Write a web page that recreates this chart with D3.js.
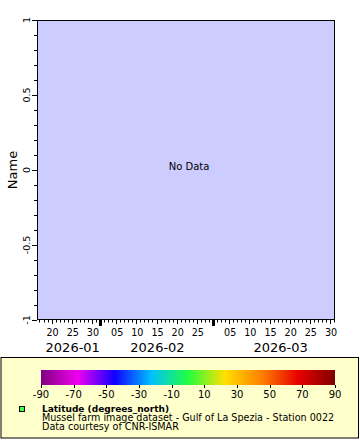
<!DOCTYPE html>
<html><head><meta charset="utf-8">
<script src="https://cdn.jsdelivr.net/npm/d3@7"></script>
<style>body{margin:0;background:#fff}svg{display:block}text{font-family:"DejaVu Sans",sans-serif}</style>
</head><body><svg id="c" width="360" height="440"></svg>
<script>
// ---- data ----
const timeDomain = [new Date(Date.UTC(2026,0,16,9,20)), new Date(Date.UTC(2026,2,31,5,30))];
const yDomain = [-1, 1];
const yMajorTicks = [-1, -0.5, 0, 0.5, 1];
const yTickLabels = ["-1", "-0.5", "0", "0.5", "1"];
const yLabel = "Name";
const dayLabelStep = 5;
const colorDomain = [-90, 90];
const colorTicks = [-90, -70, -50, -30, -10, 10, 30, 50, 70, 90];
const paletteStops = [-90, -67.5, -45, -22.5, 0, 22.5, 45, 67.5, 90];
const paletteColors = ["#800080","#f000f0","#1000ff","#00c0ff","#20ff40","#ffe000","#ff8000","#e80000","#800000"];
const legendTitle = "Latitude (degrees_north)";
const legendLines = ["Mussel farm image dataset - Gulf of La Spezia - Station 0022", "Data courtesy of CNR-ISMAR"];
const noDataText = "No Data";
const markerColor = "#40ff40";

// ---- layout ----
const svg = d3.select("#c");
const L = 37, R = 335, T = 20, B = 320;
const x = d3.scaleUtc().domain(timeDomain).range([L, R]);
const y = d3.scaleLinear().domain(yDomain).range([B, T]);

svg.append("rect").attr("x", L).attr("y", T).attr("width", R-L).attr("height", B-T)
  .attr("fill", "#ccccff").attr("stroke", "none");

// y axis ticks
const yMinor = d3.range(-10, 11).map(d => d/10);
svg.append("g").selectAll("line").data(yMinor).join("line")
  .attr("x1", d => Math.abs(d*2 - Math.round(d*2)) < 1e-9 ? L-5 : L-3).attr("x2", L)
  .attr("y1", d => Math.round(y(d))+0.5).attr("y2", d => Math.round(y(d))+0.5)
  .attr("stroke", "#000").attr("stroke-width", 1);
svg.append("g").selectAll("text").data(yMajorTicks).join("text")
  .attr("transform", d => `translate(${L-7},${y(d)}) rotate(-90)`)
  .attr("text-anchor", "middle").attr("font-size", 9.5).attr("fill", "#000")
  .text((d,i) => yTickLabels[i]);
svg.append("text").attr("transform", `translate(17,${(T+B)/2}) rotate(-90)`)
  .attr("text-anchor", "middle").attr("font-size", 13).text(yLabel);

// x axis ticks
const days = d3.utcDay.range(d3.utcDay.ceil(timeDomain[0]), timeDomain[1]);
const g = svg.append("g");
days.forEach(d => {
  const px = Math.round(x(d)) + 0.5;
  const dom = d.getUTCDate();
  if (dom === 1) {
    g.append("rect").attr("x", px-1.5).attr("y", B).attr("width", 3).attr("height", 6).attr("fill", "#000");
  } else {
    g.append("line").attr("x1", px).attr("x2", px).attr("y1", B).attr("y2", B + (dom % dayLabelStep === 0 ? 4 : 2.5))
      .attr("stroke", "#000");
  }
});
const labeled = days.filter(d => d.getUTCDate() % dayLabelStep === 0);
g.selectAll("text.day").data(labeled).join("text").attr("class", "day")
  .attr("x", d => x(d) + 1).attr("y", B + 16).attr("text-anchor", "middle").attr("font-size", 9.6)
  .text(d => d3.utcFormat("%d")(d));
// month labels centered between first and last labeled day in month
const months = d3.groups(labeled, d => d3.utcFormat("%Y-%m")(d));
g.selectAll("text.mon").data(months).join("text").attr("class", "mon")
  .attr("x", m => (x(m[1][0]) + x(m[1][m[1].length-1]))/2 + 1).attr("y", B + 32)
  .attr("text-anchor", "middle").attr("font-size", 13).text(m => m[0]);

svg.append("rect").attr("x", L+0.5).attr("y", T+0.5).attr("width", R-L-1).attr("height", B-T-1)
  .attr("fill", "none").attr("stroke", "#000").attr("stroke-width", 1);

svg.append("text").attr("x", (L+R)/2 + 3).attr("y", 170).attr("text-anchor", "middle")
  .attr("font-size", 10).text(noDataText);

// ---- legend ----
svg.append("rect").attr("x", 1).attr("y", 357.5).attr("width", 357.5).attr("height", 80.5)
  .attr("fill", "#ffffcc").attr("stroke", "#000").attr("stroke-width", 1);
const cx = d3.scaleLinear().domain(colorDomain).range([41, 335]);
const grad = svg.append("defs").append("linearGradient").attr("id", "pal")
  .attr("gradientUnits", "userSpaceOnUse").attr("x1", cx(colorDomain[0])).attr("x2", cx(colorDomain[1])).attr("y1", 0).attr("y2", 0);
grad.selectAll("stop").data(paletteStops).join("stop")
  .attr("offset", d => (d - colorDomain[0])/(colorDomain[1]-colorDomain[0]))
  .attr("stop-color", (d,i) => paletteColors[i]);
svg.append("rect").attr("x", cx(colorDomain[0])).attr("y", 370).attr("width", cx(colorDomain[1]) - cx(colorDomain[0]))
  .attr("height", 15).attr("fill", "url(#pal)");
svg.append("g").selectAll("line").data(colorTicks).join("line")
  .attr("x1", d => Math.round(cx(d))+0.5).attr("x2", d => Math.round(cx(d))+0.5)
  .attr("y1", 385).attr("y2", 388).attr("stroke", "#000");
svg.append("g").selectAll("text").data(colorTicks).join("text")
  .attr("x", d => cx(d)).attr("y", 398).attr("text-anchor", "middle").attr("font-size", 10).text(d => d);

svg.append("rect").attr("x", 19.5).attr("y", 406.5).attr("width", 5).attr("height", 5)
  .attr("fill", markerColor).attr("stroke", "#000");
svg.append("text").attr("x", 42).attr("y", 411.5).attr("font-size", 9).attr("font-weight", "bold").text(legendTitle);
svg.selectAll("text.leg").data(legendLines).join("text").attr("class", "leg")
  .attr("x", 42).attr("y", (d,i) => 420.5 + i*9).attr("font-size", 9.6).text(d => d);
</script></body></html>
